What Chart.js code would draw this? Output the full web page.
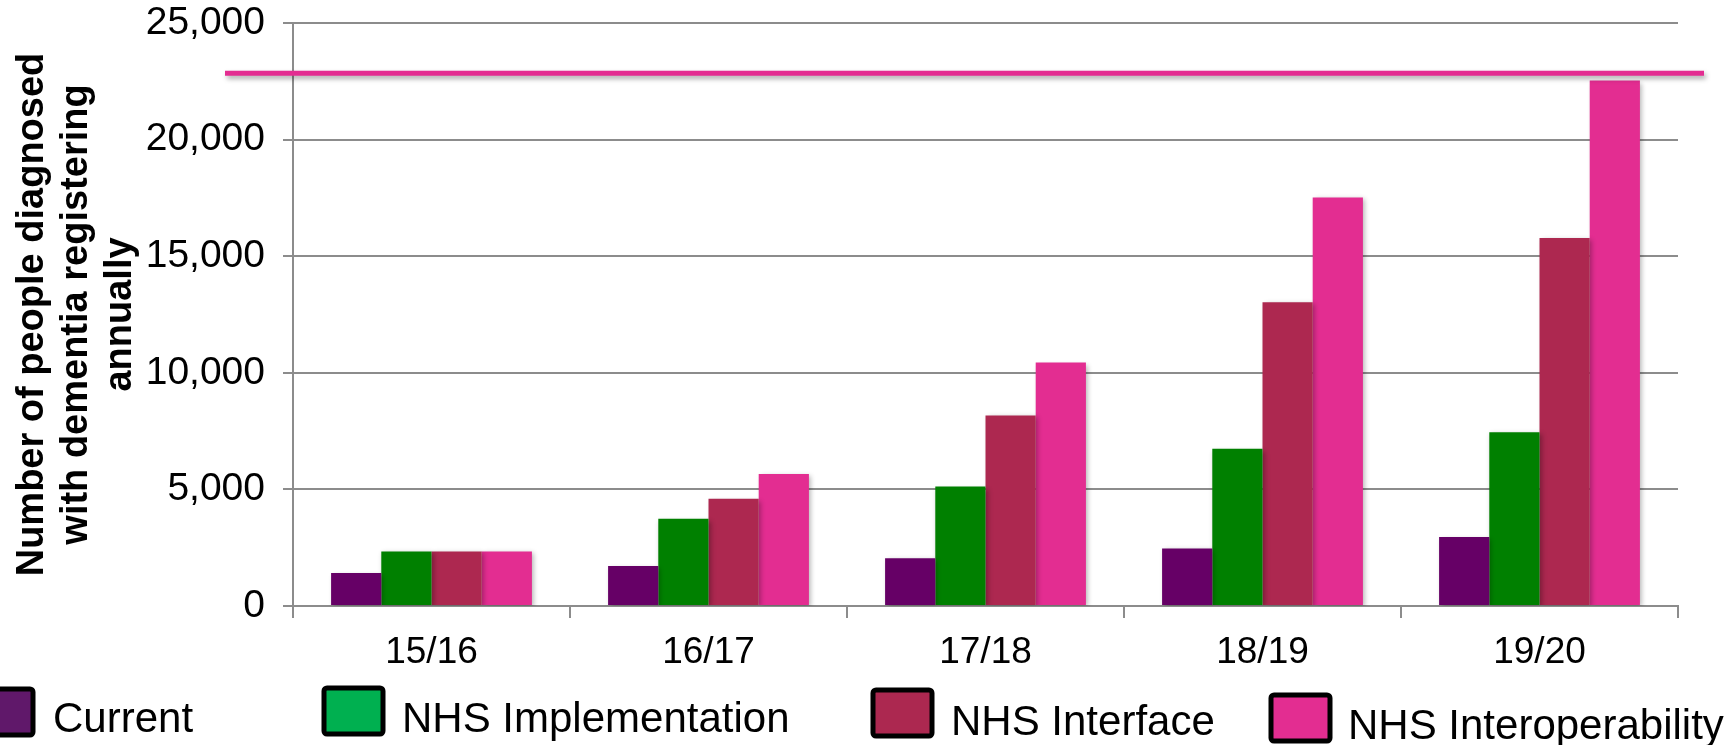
<!DOCTYPE html>
<html lang="en">
<head>
  <meta charset="UTF-8">
  <title>People diagnosed with dementia registering annually</title>
  <script src="https://cdn.jsdelivr.net/npm/chart.js"></script>
  <style>
    html, body { margin: 0; padding: 0; background: #fff; }
    .wrap { position: relative; width: 1733px; height: 745px; }
  </style>
</head>
<body>
  <div class="wrap">
    <canvas id="dementia-chart"></canvas>
  </div>

  <script>
    // values
    const categories = ['15/16', '16/17', '17/18', '18/19', '19/20'];
    const seriesNames = ['Current', 'NHS Implementation', 'NHS Interface', 'NHS Interoperability'];
    const current = [1420, 1720, 2050, 2470, 2960];
    const nhsImplementation = [2340, 3740, 5120, 6740, 7450];
    const nhsInterface = [2340, 4600, 8170, 13030, 15780];
    const nhsInteroperability = [2340, 5660, 10440, 17520, 22530];
    const targetValue = 22850;
    const yTicks = [0, 5000, 10000, 15000, 20000, 25000];

    const barColors = ['#660066', '#008000', '#ad2850', '#e32d91'];
    const legendColors = ['#60186a', '#00b050', '#ac2850', '#e32d91'];
    const gridGrey = '#8c8c8c';
    const font = 'Liberation Sans, Arial, sans-serif';

    // horizontal target line, wider than the plot area
    const targetLinePlugin = {
      id: 'targetLine',
      afterDatasetsDraw(chart) {
        const ctx = chart.ctx;
        const y = chart.scales.y.getPixelForValue(targetValue);
        ctx.save();
        ctx.shadowColor = 'rgba(0,0,0,0.35)';
        ctx.shadowBlur = 5;
        ctx.shadowOffsetX = 2;
        ctx.shadowOffsetY = 3;
        ctx.strokeStyle = '#e32d91';
        ctx.lineWidth = 5;
        ctx.beginPath();
        ctx.moveTo(225, y);
        ctx.lineTo(1704, y);
        ctx.stroke();
        ctx.restore();
      }
    };

    // soft shadow behind bars
    const barShadowPlugin = {
      id: 'barShadow',
      beforeDatasetsDraw(chart) {
        const ctx = chart.ctx;
        ctx.save();
        ctx.shadowColor = 'rgba(0,0,0,0.3)';
        ctx.shadowBlur = 5;
        ctx.shadowOffsetX = 2;
        ctx.shadowOffsetY = 2;
      },
      afterDatasetsDraw(chart) {
        chart.ctx.restore();
      }
    };

    // legend spread across the bottom like the original slide
    const legendSlots = [
      { box: [-26, 689], textX: 53, baseline: 732 },
      { box: [324, 688], textX: 402, baseline: 732 },
      { box: [873, 690], textX: 951, baseline: 735 },
      { box: [1271, 695], textX: 1348, baseline: 739 }
    ];
    const slideLegendPlugin = {
      id: 'slideLegend',
      afterDraw(chart) {
        const ctx = chart.ctx;
        ctx.save();
        chart.data.datasets.forEach((ds, i) => {
          const s = legendSlots[i];
          ctx.fillStyle = legendColors[i];
          ctx.strokeStyle = '#000';
          ctx.lineWidth = 5;
          ctx.beginPath();
          ctx.roundRect(s.box[0], s.box[1], 59, 46, 3);
          ctx.fill();
          ctx.stroke();
          ctx.fillStyle = '#000';
          ctx.font = '42px ' + font;
          ctx.textBaseline = 'alphabetic';
          ctx.textAlign = 'left';
          ctx.fillText(ds.label, s.textX, s.baseline);
        });
        ctx.restore();
      }
    };

    const seriesValues = [current, nhsImplementation, nhsInterface, nhsInteroperability];

    new Chart(document.getElementById('dementia-chart'), {
      type: 'bar',
      data: {
        labels: categories,
        datasets: seriesNames.map((name, i) => ({
          label: name,
          data: seriesValues[i],
          backgroundColor: barColors[i],
          borderWidth: 0,
          barPercentage: 1,
          categoryPercentage: 0.725
        }))
      },
      options: {
        responsive: true,
        maintainAspectRatio: false,
        animation: false,
        devicePixelRatio: 1,
        layout: { padding: { top: 23, right: 55, bottom: 0, left: 0 } },
        plugins: {
          legend: { display: false },
          tooltip: { enabled: false }
        },
        scales: {
          x: {
            afterFit(scale) {
              scale.height = 139;
              scale.paddingLeft = 0;
              scale.paddingRight = 0;
            },
            grid: {
              offset: true,
              drawOnChartArea: false,
              color: gridGrey,
              lineWidth: 2,
              tickLength: 12
            },
            border: { color: gridGrey, width: 2 },
            ticks: {
              color: '#000',
              padding: 13,
              font: { family: font, size: 37 }
            }
          },
          y: {
            min: 0,
            max: 25000,
            afterFit(scale) {
              scale.width = 293;
              scale.paddingTop = 0;
              scale.paddingBottom = 0;
            },
            afterBuildTicks(scale) { scale.ticks = yTicks.map(v => ({ value: v })); },
            grid: { color: gridGrey, lineWidth: 2, tickLength: 10 },
            border: { color: gridGrey, width: 2 },
            ticks: {
              color: '#000',
              padding: 18,
              font: { family: font, size: 39 },
              callback: v => v.toLocaleString('en-US')
            },
            title: {
              display: true,
              text: ['Number of people diagnosed', 'with dementia registering', 'annually'],
              color: '#000',
              padding: { top: 11, bottom: 0 },
              font: { family: font, size: 38, weight: 'bold', lineHeight: 1.158 }
            }
          }
        }
      },
      plugins: [barShadowPlugin, targetLinePlugin, slideLegendPlugin]
    });
  </script>
</body>
</html>
